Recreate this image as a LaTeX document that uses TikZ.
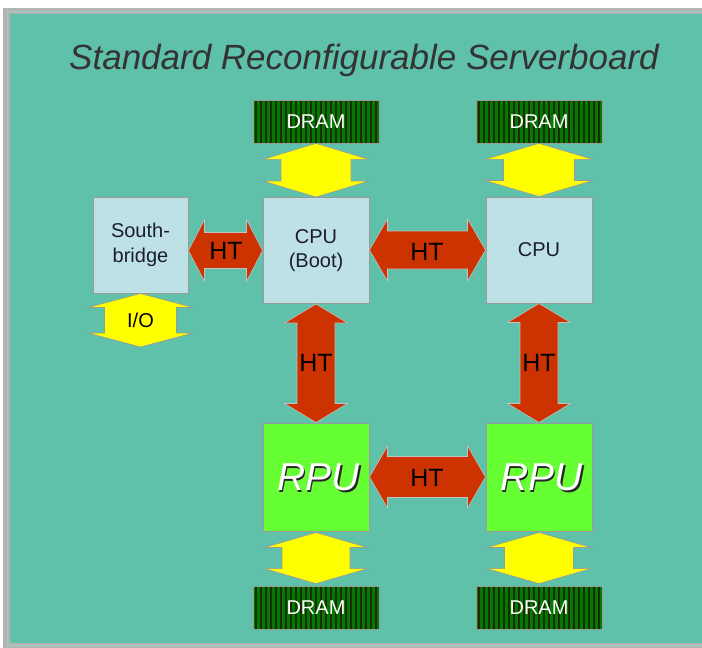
\documentclass[tikz,border=0pt]{standalone}
\usepackage{fontspec}
\setmainfont{Liberation Sans}
\usetikzlibrary{calc}
\definecolor{bgteal}{HTML}{5FC1A9}
\definecolor{framegray}{HTML}{B4B4B4}
\definecolor{frameline}{HTML}{9ECFC2}
\definecolor{boxblue}{HTML}{BDE1E5}
\definecolor{boxborder}{HTML}{9A9A9A}
\definecolor{boxtext}{HTML}{1C1C30}
\definecolor{rpugreen}{HTML}{66FF33}
\definecolor{htred}{HTML}{CC3300}
\definecolor{ioyellow}{HTML}{FFFF00}
\definecolor{dramgreen}{HTML}{007A00}
\definecolor{dramdark}{HTML}{1E2A00}
\definecolor{titlegray}{HTML}{333333}
\newcommand\hdarrow[6]{%
  \path[#1] let \p1=(#2), \p2=(#3) in
  (\x1,\y2) -- (\x1+#6 pt,\y2+#4 pt) -- (\x1+#6 pt,\y2+#5 pt) -- (\x2-#6 pt,\y2+#5 pt)
  -- (\x2-#6 pt,\y2+#4 pt) -- (\x2,\y2) -- (\x2-#6 pt,\y2-#4 pt) -- (\x2-#6 pt,\y2-#5 pt)
  -- (\x1+#6 pt,\y2-#5 pt) -- (\x1+#6 pt,\y2-#4 pt) -- cycle;}
\newcommand\vdarrow[6]{%
  \path[#1] let \p1=(#2), \p2=(#3) in
  (\x1,\y1) -- (\x1+#4 pt,\y1-#6 pt) -- (\x1+#5 pt,\y1-#6 pt) -- (\x1+#5 pt,\y2+#6 pt)
  -- (\x1+#4 pt,\y2+#6 pt) -- (\x1,\y2) -- (\x1-#4 pt,\y2+#6 pt) -- (\x1-#5 pt,\y2+#6 pt)
  -- (\x1-#5 pt,\y1-#6 pt) -- (\x1-#4 pt,\y1-#6 pt) -- cycle;}
\begin{document}
\begin{tikzpicture}[x=1pt,y=-1pt,
  box/.style={draw=boxborder, line width=1pt, fill=boxblue, minimum width=106pt,
    minimum height=106pt, inner sep=0pt, align=center, text=boxtext,
    font=\fontsize{20}{24}\selectfont},
  rpubox/.style={draw=boxborder, line width=1pt, fill=rpugreen, minimum width=106pt,
    minimum height=108pt, inner sep=0pt},
  dram/.style={draw=boxborder, line width=0.8pt, fill=dramgreen, minimum width=126pt,
    minimum height=43pt, inner sep=0pt, text=white, font=\fontsize{20}{24}\selectfont,
    path picture={\foreach \i in {0,5,...,130}
      \fill[dramdark] ([xshift=\i pt+1.5pt]path picture bounding box.south west) rectangle ++(2.5pt,50pt);}},
  yarrow/.style={fill=ioyellow, draw=boxborder, line width=0.6pt, line join=miter},
  harrow/.style={fill=htred, draw=boxborder!60, line width=0.6pt, line join=miter},
  httext/.style={text=black, font=\fontsize{25}{28}\selectfont, inner sep=0pt},
  rputext/.style={font=\fontsize{39}{44}\selectfont\itshape, inner sep=0pt}]
\useasboundingbox (0,0) rectangle (702,648);
\fill[white] (0,0) rectangle (702,648);
\fill[framegray] (3,8) rectangle (702,648);
\fill[bgteal] (10,14) rectangle (702,643);
\draw[frameline, line width=0.8pt] (7,11) -- (702,11);
\draw[frameline, line width=0.8pt] (7,11) -- (7,645) -- (702,645);

\node[text=titlegray, font=\fontsize{35}{40}\selectfont\itshape, inner sep=0pt] (title) at (364,60) {Standard Reconfigurable Serverboard};

% boxes
\node[box] (cpu0) at (316,250.5) {CPU\\(Boot)};
\node[box] (cpu1) at (539,250) {CPU};
\node[box, minimum width=95pt, minimum height=96pt, font=\fontsize{20}{25}\selectfont] (sb) at (140.5,245) {South-\\bridge};
\node[rpubox] (rpu0) at (316,477) {};
\node[rpubox] (rpu1) at (539,477) {};
\node[rputext, text=black!85] (rpu0s) at (320,479) {RPU};
\node[rputext, text=white] (rpu0t) at (318.5,477.5) {RPU};
\node[rputext, text=black!85] (rpu1s) at (543,479) {RPU};
\node[rputext, text=white] (rpu1t) at (541.5,477.5) {RPU};

% DRAMs
\node[dram] (d0) at (316,121.5) {DRAM};
\node[dram] (d1) at (539,121.5) {DRAM};
\node[dram] (d2) at (316,607.5) {DRAM};
\node[dram] (d3) at (539,607.5) {DRAM};
\coordinate (io) at (140.5,347);

% yellow arrows
\vdarrow{yarrow}{d0.south}{cpu0.north}{53}{35}{16}
\vdarrow{yarrow}{d1.south}{cpu1.north}{54}{35.5}{16}
\vdarrow{yarrow}{[yshift=-1pt]rpu0.south}{[yshift=2pt]d2.north}{51.5}{34}{15}
\vdarrow{yarrow}{[yshift=-1pt]rpu1.south}{[yshift=2pt]d3.north}{52}{34.5}{15}
\vdarrow{yarrow}{sb.south}{io}{52.5}{36}{14}
\node[text=black, font=\fontsize{20}{24}\selectfont, inner sep=0pt] (iot) at (140.5,320) {I/O};

% HT arrows
\hdarrow{harrow}{sb.east}{cpu0.west}{31}{18}{16}
\hdarrow{harrow}{cpu0.east}{cpu1.west}{31}{19}{18}
\hdarrow{harrow}{rpu0.east}{rpu1.west}{31}{20.5}{18}
\vdarrow{harrow}{cpu0.south}{rpu0.north}{31.5}{19}{19}
\vdarrow{harrow}{cpu1.south}{rpu1.north}{31.5}{19}{19}
\node[httext] (ht1) at (226,251) {HT};
\node[httext] (ht2) at (427,251.5) {HT};
\node[httext] (ht3) at (427,477.5) {HT};
\node[httext] (ht4) at (316,363) {HT};
\node[httext] (ht5) at (539,363) {HT};
\end{tikzpicture}
\end{document}
